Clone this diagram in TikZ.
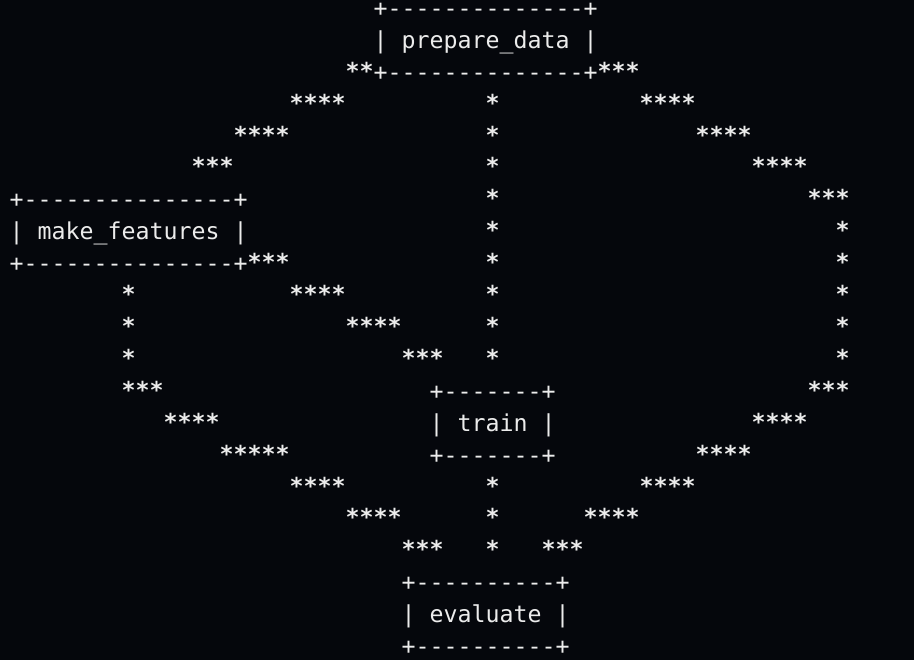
\documentclass[tikz,border=0pt]{standalone}
\usepackage{fontspec}
\setmonofont{DejaVu Sans Mono}
\definecolor{bg}{RGB}{5,7,12}
\definecolor{fg}{RGB}{236,236,236}
\tikzset{txt/.style={anchor=base west, inner sep=0pt, outer sep=0pt, text=fg,
  font=\ttfamily\fontsize{23.26}{28}\selectfont},
  startxt/.style={txt, font=\ttfamily\bfseries\fontsize{23.26}{28}\selectfont}}
% place text run #4 named #1 at column #2, row #3
\newcommand{\asc}[4]{\node[txt] (#1) at ({9.7+14*#2},{16.5+31.9*#3}) {#4};}
\newcommand{\stars}[4]{\node[startxt] (#1) at ({9.7+14*#2},{15.5+31.9*#3}) {#4};}
\begin{document}
\begin{tikzpicture}[x=1pt,y=-1pt]
\useasboundingbox (0,0) rectangle (914,660);
\fill[bg] (0,0) rectangle (914,660);
% boxes
\asc{pdT}{26}{0}{+--------------+}
\asc{pd}{26}{1}{| prepare\_data |}
\asc{pdB}{26}{2}{+--------------+}
\asc{mfT}{0}{6}{+---------------+}
\asc{mf}{0}{7}{| make\_features |}
\asc{mfB}{0}{8}{+---------------+}
\asc{trT}{30}{12}{+-------+}
\asc{tr}{30}{13}{| train |}
\asc{trB}{30}{14}{+-------+}
\asc{evT}{28}{18}{+----------+}
\asc{ev}{28}{19}{| evaluate |}
\asc{evB}{28}{20}{+----------+}
% prepare_data -> make_features
\stars{pm1}{24}{2}{**}
\stars{pm2}{20}{3}{****}
\stars{pm3}{16}{4}{****}
\stars{pm4}{13}{5}{***}
% prepare_data -> train
\foreach \r in {3,...,11}{\stars{pt\r}{34}{\r}{*}}
% prepare_data -> evaluate
\stars{pe1}{42}{2}{***}
\stars{pe2}{45}{3}{****}
\stars{pe3}{49}{4}{****}
\stars{pe4}{53}{5}{****}
\stars{pe5}{57}{6}{***}
\foreach \r in {7,...,11}{\stars{pev\r}{59}{\r}{*}}
\stars{pe6}{57}{12}{***}
\stars{pe7}{53}{13}{****}
\stars{pe8}{49}{14}{****}
\stars{pe9}{45}{15}{****}
\stars{pe10}{41}{16}{****}
\stars{pe11}{38}{17}{***}
% make_features -> train
\stars{mt1}{17}{8}{***}
\stars{mt2}{20}{9}{****}
\stars{mt3}{24}{10}{****}
\stars{mt4}{28}{11}{***}
% make_features -> evaluate
\foreach \r in {9,10,11}{\stars{mev\r}{8}{\r}{*}}
\stars{me1}{8}{12}{***}
\stars{me2}{11}{13}{****}
\stars{me3}{15}{14}{*****}
\stars{me4}{20}{15}{****}
\stars{me5}{24}{16}{****}
\stars{me6}{28}{17}{***}
% train -> evaluate
\foreach \r in {15,16,17}{\stars{te\r}{34}{\r}{*}}
\end{tikzpicture}
\end{document}
